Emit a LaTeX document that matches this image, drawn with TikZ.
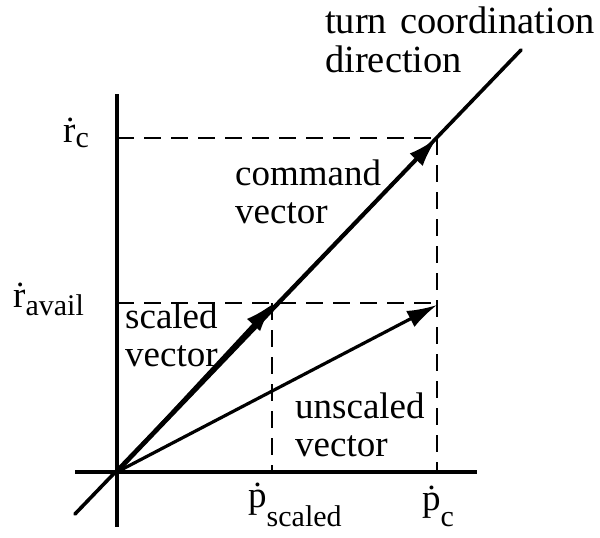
\documentclass[tikz,border=0pt]{standalone}
\usepackage{fontspec}
\setmainfont{Liberation Serif}
\usetikzlibrary{arrows.meta}
\newcommand{\lblfont}{\fontsize{37}{37.5}\selectfont}
\newcommand{\titlefont}{\fontsize{38.5}{39}\selectfont}
\newcommand{\subfont}{\fontsize{30}{30}\selectfont}
\tikzset{
  axis/.style={line width=4pt},
  vec/.style={line width=3.6pt,-{Latex[length=30pt,width=18pt]}},
  guide/.style={line width=2.6pt,dash pattern=on 17pt off 10pt},
  lbl/.style={inner sep=0pt,anchor=north west,align=left,font=\lblfont},
  sym/.style={inner sep=0pt,anchor=base west,font=\lblfont},
}
\begin{document}
\begin{tikzpicture}[x=1pt,y=-1pt]
\useasboundingbox (0,0) rectangle (600,538);
% key points
\coordinate (O) at (117,472);
\coordinate (ytop) at (117,94);
\coordinate (ybot) at (117,527);
\coordinate (xl) at (75,472);
\coordinate (xr) at (477,472);
\coordinate (dl) at (75,514);
\coordinate (dr) at (521,50);
\coordinate (C) at (437,138);
\coordinate (S) at (274,303);
\coordinate (U) at (437,305);
\coordinate (rc) at (117,138);
\coordinate (ra) at (117,303);
\coordinate (pc) at (437,472);
\coordinate (ps) at (272,472);
\coordinate (Sx) at (272,303);
\coordinate (Cr) at (437,303);
% axes
\draw[axis] (ytop) -- (ybot);
\draw[axis] (xl) -- (xr);
\draw[line width=3.6pt,line cap=round] (dl) -- (dr);
% dashed guides
\draw[guide] (rc) -- (C);
\draw[guide] (C) -- (pc);
\draw[guide] (ra) -- (Cr);
\draw[guide] (Sx) -- (ps);
% vectors
\draw[vec] (O) -- (C);
\draw[vec] (O) -- (S);
\draw[vec,line width=3.2pt] (O) -- (U);
% labels
\node[lbl,font=\titlefont,text width=280pt] (title) at (325,7) {turn coordination\\direction};
\node[lbl] (cmd) at (235,160) {command\\vector};
\node[lbl] (scl) at (125,303) {scaled\\vector};
\node[lbl] (uns) at (295,393) {unscaled\\vector};
\node[sym] (lrc) at (63,142) {\.r\raisebox{-5pt}{\subfont c}};
\node[sym] (lra) at (13,307) {\.r\raisebox{-8pt}{\subfont avail}};
\node[sym] (lps) at (248,507) {\.p\raisebox{-19pt}{\subfont scaled}};
\node[sym] (lpc) at (422,510) {\.p\raisebox{-16pt}{\subfont c}};
\end{tikzpicture}
\end{document}
